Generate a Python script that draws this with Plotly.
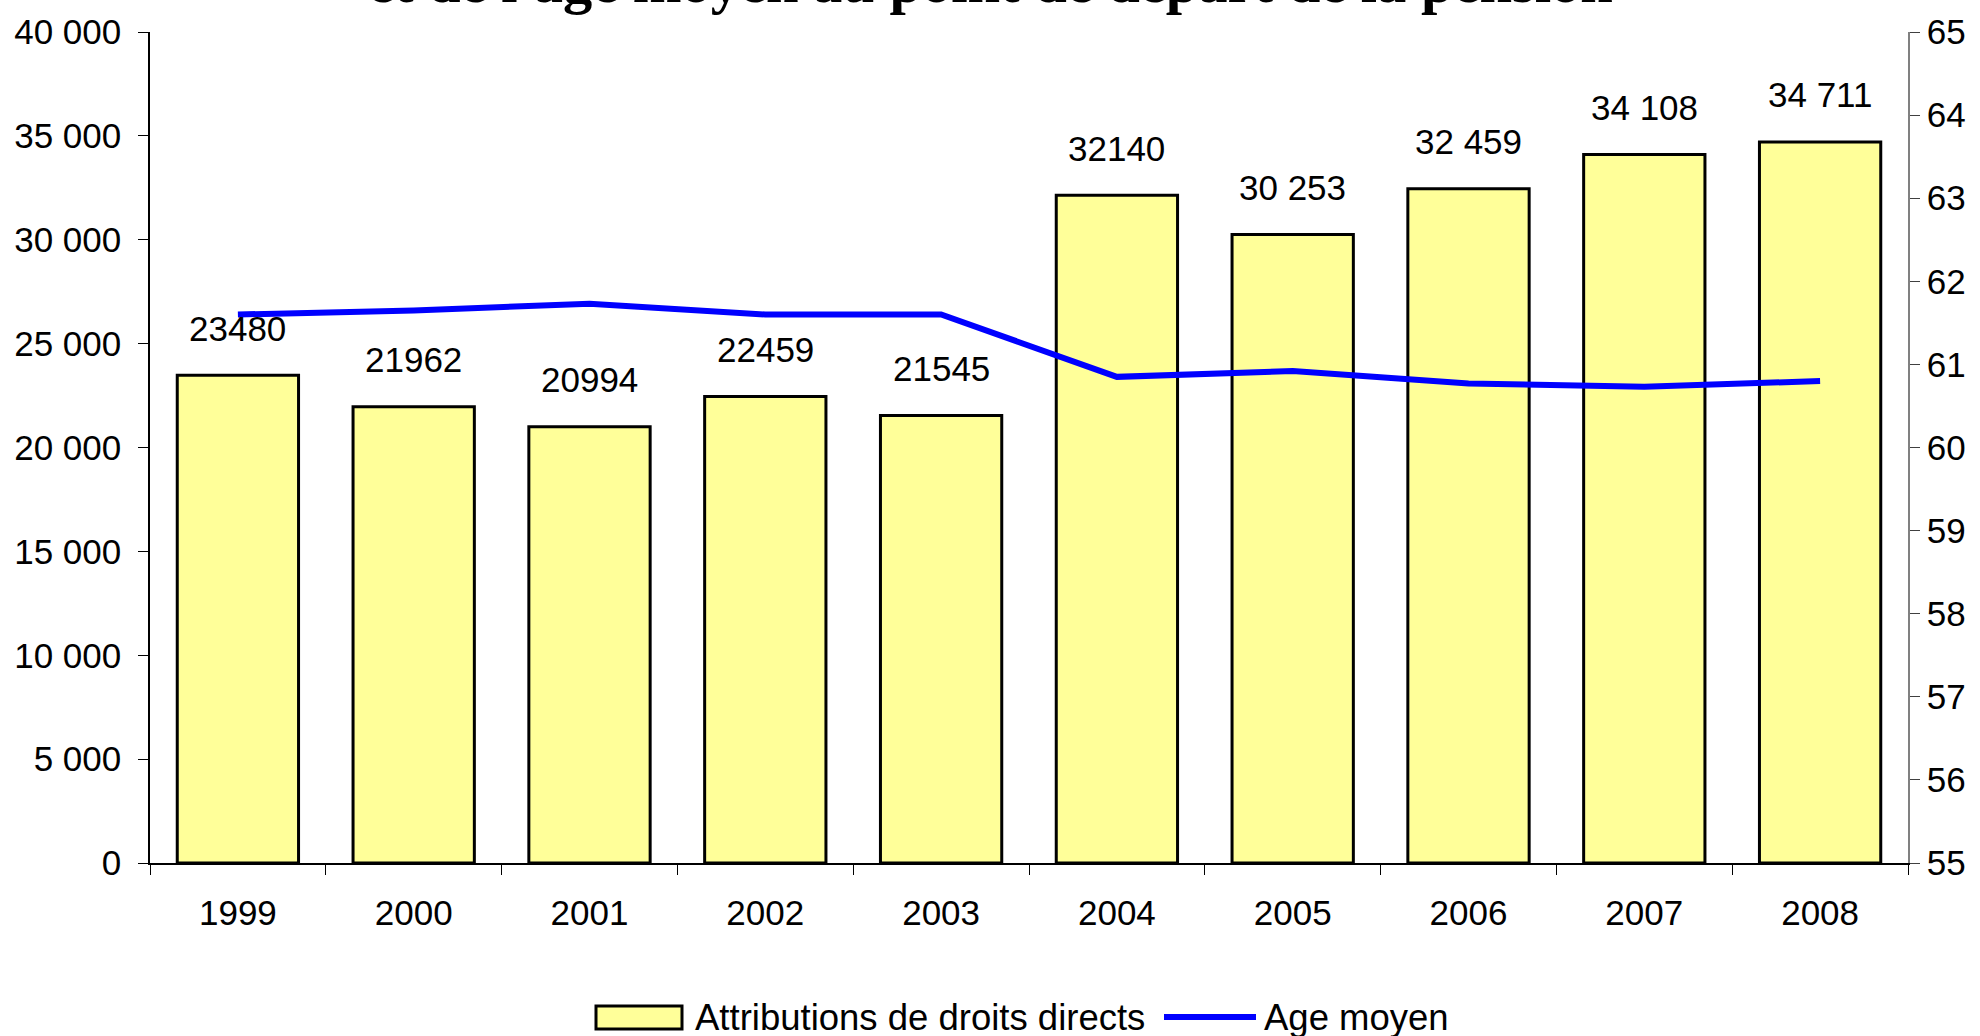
import plotly.graph_objects as go

years = ["1999", "2000", "2001", "2002", "2003", "2004", "2005", "2006", "2007", "2008"]
attributions = [23480, 21962, 20994, 22459, 21545, 32140, 30253, 32459, 34108, 34711]
attribution_labels = ["23480", "21962", "20994", "22459", "21545", "32140", "30 253", "32 459", "34 108", "34 711"]
age_moyen = [61.6, 61.65, 61.73, 61.6, 61.6, 60.85, 60.92, 60.77, 60.73, 60.8]

W, H = 1980, 1036
L, R, T, B = 150, 72, 32, 173
plot_h = H - T - B
plot_w = W - L - R

def py(px):
    return (H - B - px) / plot_h

def pxx(px):
    return (px - L) / plot_w

FONT = "Liberation Sans, Arial"
FS = 35
LFS = 36.5

fig = go.Figure()
fig.add_trace(go.Bar(
    x=years, y=attributions, name="Attributions de droits directs",
    marker=dict(color="#FFFF99", line=dict(color="black", width=3)),
    yaxis="y", showlegend=False,
))
fig.add_trace(go.Scatter(
    x=years, y=age_moyen, name="Age moyen", mode="lines",
    line=dict(color="#0000FF", width=6),
    yaxis="y2", showlegend=False,
))

for i, (v, lab) in enumerate(zip(attributions, attribution_labels)):
    fig.add_annotation(x=i, y=v, xref="x", yref="y", text=lab, showarrow=False,
                       yanchor="middle", yshift=47,
                       font=dict(family=FONT, size=FS, color="black"))

fig.add_annotation(x=(W / 2 - L) / plot_w, xref="paper", y=py(17), yref="paper",
                   text="<b>Evolution du nombre d'attributions de droits directs<br>et de l'âge moyen au point de départ de la pension</b>",
                   showarrow=False, yanchor="bottom", xanchor="center",
                   font=dict(family="Liberation Serif, Times New Roman", size=58.5, color="black"))

# legend drawn manually
fig.add_shape(type="rect", xref="paper", yref="paper",
              x0=pxx(596), x1=pxx(682), y0=py(1029), y1=py(1006),
              fillcolor="#FFFF99", line=dict(color="black", width=3))
fig.add_annotation(x=pxx(693), xref="paper", y=py(1017), yref="paper",
                   text="Attributions de droits directs", showarrow=False,
                   xanchor="left", yanchor="middle", font=dict(family=FONT, size=LFS, color="black"))
fig.add_shape(type="line", xref="paper", yref="paper",
              x0=pxx(1164), x1=pxx(1256), y0=py(1017), y1=py(1017),
              line=dict(color="#0000FF", width=6))
fig.add_annotation(x=pxx(1262), xref="paper", y=py(1017), yref="paper",
                   text="Age moyen", showarrow=False,
                   xanchor="left", yanchor="middle", font=dict(family=FONT, size=LFS, color="black"))

fig.update_layout(
    width=W, height=H,
    margin=dict(l=L, r=R, t=T, b=B),
    paper_bgcolor="white", plot_bgcolor="white",
    separators=", ",
    font=dict(family=FONT, size=FS, color="black"),
    bargap=0.31,
    showlegend=False,
    xaxis=dict(type="category", range=[-0.5, 9.5], showline=True, linecolor="black", linewidth=1.5,
               ticks="outside", ticklen=10, tickcolor="black", tickson="boundaries",
               showgrid=False, ticklabelstandoff=18, tickfont=dict(size=FS)),
    yaxis=dict(range=[0, 40000], dtick=5000, tickformat=",d", showline=True, linecolor="black",
               linewidth=1.5, ticks="outside", ticklen=10, tickcolor="black", showgrid=False,
               zeroline=False, ticklabelstandoff=10, tickfont=dict(size=FS)),
    yaxis2=dict(range=[55, 65], dtick=1, overlaying="y", side="right", showline=True,
                linecolor="#808080", linewidth=1.5, ticks="outside", ticklen=10, tickcolor="#404040",
                showgrid=False, zeroline=False, tickfont=dict(size=FS)),
)

fig.write_html("out.html", config={"displayModeBar": False},
               post_script="document.body.style.margin='0';document.body.style.overflow='hidden';")
